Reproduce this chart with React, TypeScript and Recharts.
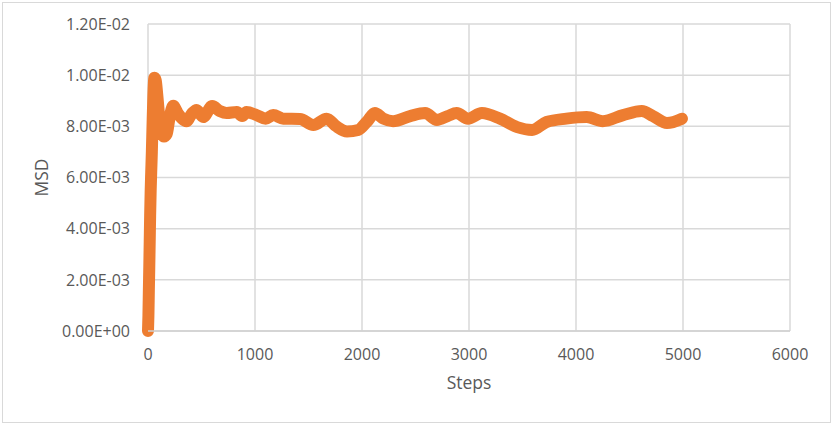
import { LineChart, Line, XAxis, YAxis, CartesianGrid } from "recharts";

const steps = [
  0, 4, 8, 12, 16, 20, 25, 30, 36, 42, 50, 60, 72, 85, 100, 120, 150, 175, 200,
  235, 280, 360, 410, 455, 515, 600, 670, 735, 830, 880, 920, 1015, 1100, 1170,
  1265, 1420, 1545, 1670, 1760, 1860, 1965, 2050, 2120, 2200, 2290, 2450, 2590,
  2700, 2800, 2885, 2990, 3120, 3290, 3450, 3590, 3725, 3910, 4100, 4250, 4440,
  4615, 4720, 4850, 4990,
];

const msd = [
  0, 0.0006, 0.0016, 0.0025, 0.0035, 0.0045, 0.0055, 0.0062, 0.007, 0.008,
  0.0092, 0.0099, 0.0098, 0.0093, 0.0086, 0.0079, 0.0076, 0.0077, 0.0083,
  0.0088, 0.0085, 0.0082, 0.0085, 0.00864, 0.00836, 0.00879, 0.0086, 0.00852,
  0.00856, 0.0084, 0.00856, 0.00844, 0.0083, 0.00844, 0.0083, 0.00829, 0.00805,
  0.0083, 0.008, 0.0078, 0.00786, 0.0082, 0.00852, 0.0083, 0.0082, 0.0084,
  0.00852, 0.00825, 0.0084, 0.00852, 0.0083, 0.00852, 0.0083, 0.00797, 0.00786,
  0.00817, 0.0083, 0.00836, 0.0082, 0.00844, 0.0086, 0.0084, 0.00813, 0.0083,
];

const xTicks = [0, 1000, 2000, 3000, 4000, 5000, 6000];
const yTicks = [0, 0.002, 0.004, 0.006, 0.008, 0.01, 0.012];

const data = steps.map((s, i) => ({ step: s, msd: msd[i] }));

// Excel style scientific labels, e.g. 8.00E-03
function sci(v: number) {
  if (v === 0) return "0.00E+00";
  const exp = Math.floor(Math.log10(v) + 1e-9);
  const mant = v / Math.pow(10, exp);
  const sign = exp < 0 ? "-" : "+";
  return `${mant.toFixed(2)}E${sign}${String(Math.abs(exp)).padStart(2, "0")}`;
}

const font = "'Open Sans', sans-serif";
const tickStyle = { fontSize: 16, fill: "#595959", fontFamily: font };

export default function App() {
  return (
    <div
      style={{
        position: "absolute",
        left: 0,
        top: 0,
        width: 831,
        height: 424,
        background: "#fff",
      }}
    >
      <div
        style={{
          position: "absolute",
          left: 2,
          top: 2,
          width: 829,
          height: 421,
          border: "1px solid #d9d9d9",
          boxSizing: "border-box",
        }}
      />
      <LineChart
        width={831}
        height={424}
        data={data}
        margin={{ top: 24, right: 41, bottom: 31, left: 0 }}
        style={{ position: "absolute", left: 0, top: 0 }}
      >
        <CartesianGrid stroke="#d9d9d9" strokeWidth={1.5} />
        <XAxis
          dataKey="step"
          type="number"
          domain={[0, 6000]}
          ticks={xTicks}
          height={62}
          tickLine={false}
          tickSize={0}
          tickMargin={18}
          axisLine={{ stroke: "#d0d0d0", strokeWidth: 1.5 }}
          tick={tickStyle}
          label={{
            value: "Steps",
            position: "insideBottom",
            offset: 4,
            style: { fontSize: 17.5, fill: "#595959", fontFamily: font },
          }}
        />
        <YAxis
          type="number"
          domain={[0, 0.012]}
          ticks={yTicks}
          width={148}
          tickLine={false}
          tickSize={0}
          tickMargin={18}
          axisLine={false}
          tick={tickStyle}
          tickFormatter={sci}
          label={{
            value: "MSD",
            angle: -90,
            position: "insideLeft",
            offset: 42,
            style: {
              fontSize: 17.5,
              fill: "#595959",
              fontFamily: font,
              textAnchor: "middle",
            },
          }}
        />
        <Line
          type="monotone"
          dataKey="msd"
          stroke="#ED7D31"
          strokeWidth={12}
          strokeLinecap="round"
          strokeLinejoin="round"
          dot={false}
          activeDot={false}
          isAnimationActive={false}
        />
      </LineChart>
    </div>
  );
}
